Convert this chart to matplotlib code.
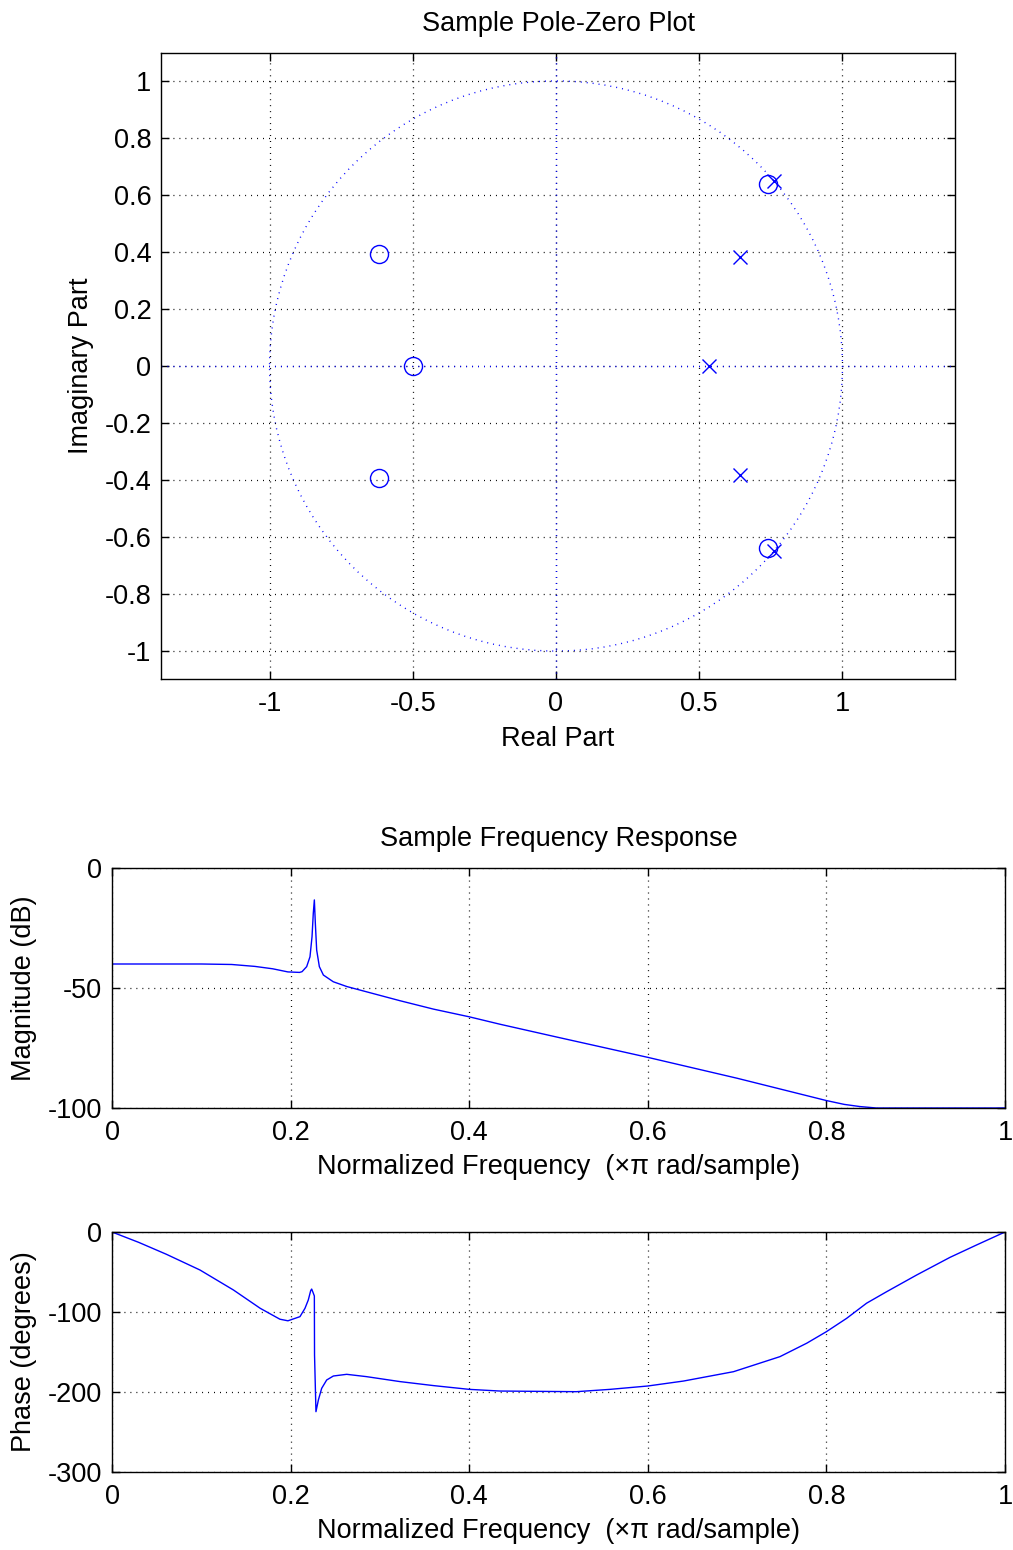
import matplotlib
matplotlib.use("Agg")
import matplotlib.pyplot as plt
from matplotlib.patches import Circle

plt.rcParams['font.family'] = ['Liberation Sans', 'DejaVu Sans']
plt.rcParams['font.size'] = 19.5
plt.rcParams['axes.titlesize'] = 19.5
plt.rcParams['axes.unicode_minus'] = False
plt.rcParams['lines.scale_dashes'] = False

# ---- pole-zero data ----
zeros_re = [0.74, 0.74, -0.618, -0.618, -0.5]
zeros_im = [0.637, -0.637, 0.392, -0.392, 0.0]
poles_re = [0.762, 0.762, 0.642, 0.642, 0.534]
poles_im = [0.648, -0.648, 0.382, -0.382, 0.0]

# ---- magnitude response (dB) ----
mag_f = [0.0, 0.05, 0.10, 0.134, 0.16, 0.18, 0.197, 0.21, 0.2128, 0.218, 0.2217,
         0.224, 0.2254, 0.2266, 0.2277, 0.2292, 0.2322, 0.2367, 0.2478, 0.263,
         0.3225, 0.36, 0.4, 0.4345, 0.5, 0.6, 0.7, 0.8, 0.82, 0.8376, 0.856, 1.0]
mag_db = [-40.0, -40.0, -40.0, -40.2, -41.0, -42.0, -43.3, -43.5, -43.2, -41.1, -37.0,
          -28.6, -18.9, -13.3, -23.0, -34.2, -41.1, -44.6, -47.4, -49.4,
          -55.3, -58.8, -62.0, -65.1, -70.6, -78.9, -87.6, -96.9, -98.5, -99.4, -100.0, -100.0]

# ---- phase response (degrees) ----
ph_f = [0.0, 0.03, 0.061, 0.0985, 0.136, 0.166, 0.188, 0.197, 0.2105, 0.2161, 0.2198,
        0.2225, 0.2236, 0.2255, 0.2266, 0.2268, 0.2284, 0.2311, 0.2348, 0.2404, 0.2479,
        0.2628, 0.285, 0.3225, 0.36, 0.4, 0.4345, 0.52, 0.5577, 0.6, 0.64, 0.696,
        0.748, 0.778, 0.8, 0.8227, 0.845, 0.8675, 0.901, 0.9384, 0.968, 1.0]
ph_deg = [0.0, -13.0, -27.9, -47.5, -72.5, -95.4, -109.0, -111.0, -105.8, -95.4, -85.0,
          -73.3, -71.3, -76.7, -80.0, -153.8, -224.6, -210.0, -195.4, -185.0, -180.0,
          -177.9, -180.8, -187.0, -192.0, -196.7, -198.8, -199.6, -196.7, -192.5, -186.3, -174.6,
          -155.8, -139.0, -124.6, -107.9, -89.0, -74.6, -53.8, -31.7, -16.3, 0.0]

freq_ticks = [0, 0.2, 0.4, 0.6, 0.8, 1]
freq_label = 'Normalized Frequency  (\u00d7\u03c0 rad/sample)'

grid_dots = (0, (0.7, 3.6))
blue = (0, 0, 1)


def style_axes(ax):
    # matlab look: box on, inward ticks on all sides, dotted black grid
    ax.tick_params(direction='in', length=6, width=1, top=True, right=True, color='k')
    ax.tick_params(axis='y', pad=7)
    ax.tick_params(axis='x', pad=9)
    ax.grid(True, color='k', linestyle=grid_dots, linewidth=0.9)
    for s in ax.spines.values():
        s.set_linewidth(1.0)


fig = plt.figure(figsize=(10.13, 15.5), dpi=100)

# ================= pole-zero plot =================
ax1 = fig.add_axes([161 / 1013, 1 - 679 / 1550, 794 / 1013, 626 / 1550])
style_axes(ax1)
ax1.add_patch(Circle((0, 0), 1, fill=False, edgecolor=blue, linestyle=grid_dots, linewidth=1.0))
ax1.axhline(0, color=blue, linestyle=grid_dots, linewidth=1.0)
ax1.axvline(0, color=blue, linestyle=grid_dots, linewidth=1.0)
ax1.plot(zeros_re, zeros_im, linestyle='none', marker='o', markersize=13,
         markerfacecolor='none', markeredgecolor=blue, markeredgewidth=1.0)
ax1.plot(poles_re, poles_im, linestyle='none', marker='x', markersize=10.5,
         markeredgecolor=blue, markeredgewidth=1.0)
ax1.set_xlim(-1.379, 1.393)
ax1.set_ylim(-1.098, 1.098)
ax1.set_xticks([-1, -0.5, 0, 0.5, 1])
ax1.set_xticklabels(['-1', '-0.5', '0', '0.5', '1'])
yt = [-1, -0.8, -0.6, -0.4, -0.2, 0, 0.2, 0.4, 0.6, 0.8, 1]
ax1.set_yticks(yt)
ax1.set_yticklabels(['%g' % v for v in yt])
ax1.set_title('Sample Pole-Zero Plot', pad=16)
ax1.set_xlabel('Real Part', va='top')
ax1.xaxis.set_label_coords(0.5, -0.075)
ax1.set_ylabel('Imaginary Part')
ax1.yaxis.set_label_coords(-0.084, 0.5)

# ================= magnitude =================
ax2 = fig.add_axes([112 / 1013, 1 - 1108 / 1550, 893 / 1013, 240 / 1550])
style_axes(ax2)
ax2.plot(mag_f, mag_db, color=blue, linewidth=1.0)
ax2.set_xlim(0, 1)
ax2.set_ylim(-100, 0)
ax2.set_xticks(freq_ticks)
ax2.set_xticklabels(['%g' % v for v in freq_ticks])
ax2.set_yticks([-100, -50, 0])
ax2.set_title('Sample Frequency Response', pad=15.5)
ax2.set_xlabel(freq_label, va='top')
ax2.xaxis.set_label_coords(0.5, -0.19)
ax2.set_ylabel('Magnitude (dB)')
ax2.yaxis.set_label_coords(-0.084, 0.5)

# ================= phase =================
ax3 = fig.add_axes([112 / 1013, 1 - 1472 / 1550, 893 / 1013, 240 / 1550])
style_axes(ax3)
ax3.plot(ph_f, ph_deg, color=blue, linewidth=1.0)
ax3.set_xlim(0, 1)
ax3.set_ylim(-300, 0)
ax3.set_xticks(freq_ticks)
ax3.set_xticklabels(['%g' % v for v in freq_ticks])
ax3.set_yticks([-300, -200, -100, 0])
ax3.set_xlabel(freq_label, va='top')
ax3.xaxis.set_label_coords(0.5, -0.19)
ax3.set_ylabel('Phase (degrees)')
ax3.yaxis.set_label_coords(-0.084, 0.5)

fig.savefig('out.png', dpi=100)
